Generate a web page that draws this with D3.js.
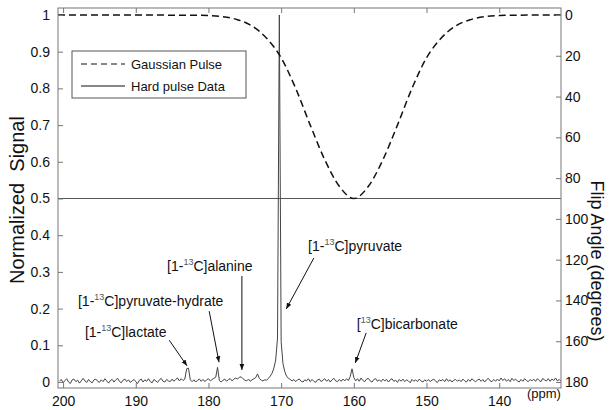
<!DOCTYPE html>
<html>
<head>
<meta charset="utf-8">
<script src="https://cdn.jsdelivr.net/npm/d3@7/dist/d3.min.js"></script>
<style>
  body { margin: 0; background: #fff; }
  svg { display: block; }
  text { font-family: "Liberation Sans", Arial, sans-serif; fill: #111; }
</style>
</head>
<body>
<svg id="chart" width="610" height="410"></svg>
<script>
// 13C spectrum, one value every 0.25 ppm starting at 200.5 ppm
const specStart = 200.5;
const specStep = 0.25;
const specSignal = [
  .002,.007,-.002,.004,.009,.000,-.004,.006,.008,.001,.005,-.003,.003,.010,.003,-.001,.007,.001,-.002,.006,
  .008,.002,-.001,.006,.001,.009,.003,-.003,.004,.007,.000,.006,.010,.002,-.002,.005,.008,.001,.006,-.001,
  .003,.007,.001,-.004,.005,.008,.000,.006,.002,.009,.001,-.002,.007,.003,-.001,.006,.010,.002,.000,.007,
  .003,.001,.008,.002,.007,.011,.003,.009,.004,.008,.036,.038,.006,.001,.006,.000,.005,.008,.002,.007,
  .001,.006,.009,.003,.007,.010,.013,.040,.004,.000,.005,.008,.002,.007,.009,.003,.008,.011,.008,.013,
  .014,.009,.005,.003,.008,.002,.006,.009,.012,.022,.010,.005,.003,.006,.005,.010,.016,.024,.038,.060,
  .120,1.000,.110,.050,.028,.016,.010,.007,.003,.007,.001,.006,.008,.002,.000,.006,.003,.009,.001,.007,
  .002,-.001,.006,.008,.001,.005,.009,.002,.007,.000,.006,.010,.003,.001,.007,.002,.008,.003,.009,.004,
  .015,.036,.012,.003,.009,.002,.011,.004,.001,.008,.010,.003,.000,.007,.009,.002,.006,.001,.008,.003,
  .007,.000,.006,.009,.002,.005,-.001,.007,.002,.008,.001,.006,.003,-.002,.007,.002,.006,.001,.008,.003,
  .000,.006,.002,.007,.001,.005,.008,.002,-.001,.006,.003,.007,.001,.009,.002,.006,.000,.005,.007,.002,
  .006,.001,.008,.003,.000,.007,.002,.009,.004,.001,.005,.008,.002,.007,.000,.006,.010,.003,.001,.007,
  .002,.008,.003,.011,.004,.009,.002,.007,.001,.010,.004,.008,.003,.000,.007,.002,.009,.004,.001,.007,
  .003,.008,.002,.009,.004,.001,.010,.005,.003,.009,.002,.008,.004,.011,.003,.007,.002
];

// gaussian pulse profile (flip angle in degrees)
const gaussPpm  = [200.7, 182, 180, 178, 176, 174, 172, 170, 168, 166, 164, 162, 160,
                   158, 156, 154, 152, 150, 148, 146, 144, 142, 140, 138, 131.5];
const gaussFlip = [0, 0.1, 0.3, 0.85, 2.3, 5.4, 11.4, 21, 36, 54, 71, 84, 90,
                   84, 71, 54, 36, 21, 11.4, 5.4, 2.3, 0.85, 0.3, 0.1, 0];

const xTicks = [200, 190, 180, 170, 160, 150, 140];
const yTicks = [0, 0.1, 0.2, 0.3, 0.4, 0.5, 0.6, 0.7, 0.8, 0.9, 1];
const flipTicks = [0, 20, 40, 60, 80, 100, 120, 140, 160, 180];

// peak labels: text start, arrow start, arrow tip (ppm, signal)
const annPre   = ["[1-", "[1-", "[1-", "[1-", "["];
const annPost  = ["C]lactate", "C]pyruvate-hydrate", "C]alanine", "C]pyruvate", "C]bicarbonate"];
const annTextPpm = [197.0, 197.95, 185.7, 166.3, 159.6];
const annTextSig = [0.123, 0.207, 0.302, 0.357, 0.144];
const annFromPpm = [185.4, 179.9, 175.4, 165.5, 158.3];
const annFromSig = [0.114, 0.193, 0.289, 0.338, 0.134];
const annTipPpm  = [182.95, 178.55, 175.4, 169.3, 159.8];
const annTipSig  = [0.044, 0.054, 0.033, 0.199, 0.052];

const mLeft = 58, mRight = 561, mTop = 8, mBottom = 388;

const svg = d3.select("#chart");

const x = d3.scaleLinear().domain([200.7, 131.5]).range([mLeft, mRight]);
const y = d3.scaleLinear().domain([-0.0163, 1.019]).range([mBottom, mTop]);
const yFlip = d3.scaleLinear().domain([182.94, -3.43]).range([mBottom, mTop]);

const spec = specSignal.map((v, i) => ({ppm: specStart - i * specStep, v: v}));
const gauss = gaussPpm.map((p, i) => ({ppm: p, f: gaussFlip[i]}));

const defs = svg.append("defs");
defs.append("clipPath").attr("id", "plot-clip")
  .append("rect").attr("x", mLeft).attr("y", mTop)
  .attr("width", mRight - mLeft).attr("height", mBottom - mTop);
defs.append("marker")
  .attr("id", "arrow")
  .attr("viewBox", "0 0 10 10")
  .attr("refX", 10).attr("refY", 5)
  .attr("markerWidth", 6).attr("markerHeight", 6)
  .attr("markerUnits", "userSpaceOnUse")
  .attr("orient", "auto")
  .append("path").attr("d", "M0,1 L10,5 L0,9 Z").attr("fill", "#111");

const plot = svg.append("g").attr("clip-path", "url(#plot-clip)");

// 90 degree line
plot.append("line")
  .attr("x1", mLeft).attr("x2", mRight)
  .attr("y1", yFlip(90)).attr("y2", yFlip(90))
  .attr("stroke", "#555").attr("stroke-width", 1);

plot.append("path")
  .datum(spec)
  .attr("fill", "none")
  .attr("stroke", "#444")
  .attr("stroke-width", 1)
  .attr("stroke-linejoin", "round")
  .attr("d", d3.line().x(d => x(d.ppm)).y(d => y(d.v)));

plot.append("path")
  .datum(gauss)
  .attr("fill", "none")
  .attr("stroke", "#111")
  .attr("stroke-width", 1.5)
  .attr("stroke-dasharray", "7,4")
  .attr("d", d3.line().curve(d3.curveMonotoneX).x(d => x(d.ppm)).y(d => yFlip(d.f)));

// axes, MATLAB style inward ticks
function styleAxis(g) {
  g.select(".domain").remove();
  g.selectAll(".tick line").attr("stroke", "#777");
  g.selectAll(".tick text").attr("font-size", 14).attr("fill", "#111")
    .attr("font-family", "'Liberation Sans', Arial, sans-serif");
}

svg.append("g").attr("transform", `translate(0,${mBottom})`)
  .call(d3.axisBottom(x).tickValues(xTicks).tickSizeInner(-5).tickSizeOuter(0).tickPadding(8))
  .call(styleAxis);
svg.append("g").attr("transform", `translate(0,${mTop})`)
  .call(d3.axisTop(x).tickValues(xTicks).tickSizeInner(-5).tickSizeOuter(0).tickFormat(""))
  .call(styleAxis);
svg.append("g").attr("transform", `translate(${mLeft},0)`)
  .call(d3.axisLeft(y).tickValues(yTicks).tickSizeInner(-5).tickSizeOuter(0).tickPadding(8)
    .tickFormat(d => d === 0 || d === 1 ? d3.format("d")(d) : d3.format(".1f")(d)))
  .call(styleAxis);
svg.append("g").attr("transform", `translate(${mRight},0)`)
  .call(d3.axisRight(yFlip).tickValues(flipTicks).tickSizeInner(-5).tickSizeOuter(0).tickPadding(4))
  .call(styleAxis);

svg.append("rect")
  .attr("x", mLeft).attr("y", mTop)
  .attr("width", mRight - mLeft).attr("height", mBottom - mTop)
  .attr("fill", "none").attr("stroke", "#777").attr("stroke-width", 1);

// axis titles
svg.append("text")
  .attr("transform", `translate(24,200) rotate(-90)`)
  .attr("text-anchor", "middle")
  .attr("font-size", 20)
  .attr("xml:space", "preserve")
  .text("Normalized  Signal");

svg.append("text")
  .attr("transform", `translate(591,261) rotate(90)`)
  .attr("text-anchor", "middle")
  .attr("font-size", 18)
  .text("Flip Angle (degrees)");

svg.append("text")
  .attr("x", 527).attr("y", 398)
  .attr("font-family", "'Liberation Serif', 'Times New Roman', serif")
  .attr("font-size", 13)
  .text("(ppm)");

// peak annotations
const ann = svg.append("g");
annPre.forEach((pre, i) => {
  ann.append("line")
    .attr("x1", x(annFromPpm[i])).attr("y1", y(annFromSig[i]))
    .attr("x2", x(annTipPpm[i])).attr("y2", y(annTipSig[i]))
    .attr("stroke", "#111").attr("stroke-width", 1)
    .attr("marker-end", "url(#arrow)");
  const t = ann.append("text")
    .attr("x", x(annTextPpm[i])).attr("y", y(annTextSig[i]))
    .attr("font-size", 14);
  t.append("tspan").text(pre);
  t.append("tspan").attr("font-size", 9).attr("dy", -6).attr("fill", "#555").text("13");
  t.append("tspan").attr("dy", 6).text(annPost[i]);
});

// legend
const legend = svg.append("g");
legend.append("rect")
  .attr("x", 72).attr("y", 51).attr("width", 174).attr("height", 47)
  .attr("fill", "#fff").attr("stroke", "#555").attr("stroke-width", 1);
const legItems = [
  {label: "Gaussian Pulse", dash: "6,4", y: 64},
  {label: "Hard pulse Data", dash: null, y: 86}
];
legItems.forEach(d => {
  legend.append("line")
    .attr("x1", 81).attr("x2", 125).attr("y1", d.y).attr("y2", d.y)
    .attr("stroke", "#111").attr("stroke-width", 1.2)
    .attr("stroke-dasharray", d.dash);
  legend.append("text")
    .attr("x", 131).attr("y", d.y + 5)
    .attr("font-size", 13)
    .text(d.label);
});
</script>
</body>
</html>
